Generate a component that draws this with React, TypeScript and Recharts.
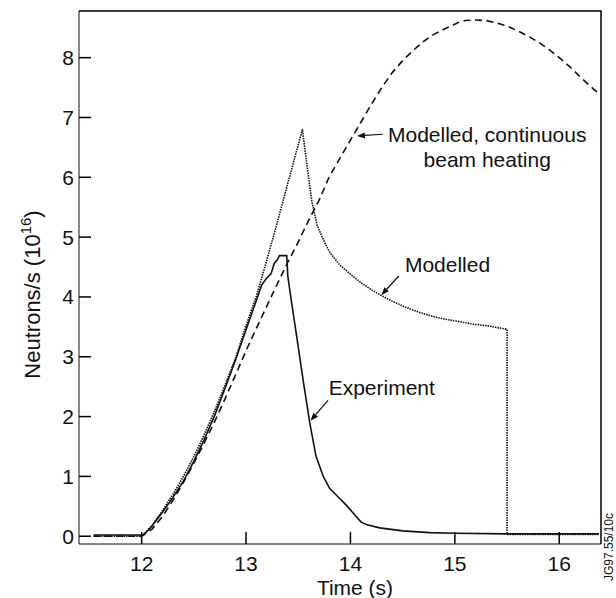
import React from 'react';
import { LineChart, Line, XAxis, YAxis, ReferenceLine, ReferenceDot } from 'recharts';

const FONT = '"Liberation Sans", Arial, Helvetica, sans-serif';
const INK = '#111';
const FS = 21;

const xTicks = [12, 13, 14, 15, 16];
const yTicks = [0, 1, 2, 3, 4, 5, 6, 7, 8];
const xDomain = [11.4, 16.4];
const yDomain = [-0.13, 8.78];

// Measured neutron rate (10^16 /s)
const expTime = [11.54, 12.02, 12.1, 12.2, 12.3, 12.4, 12.5, 12.6, 12.7, 12.8, 12.9, 13.0, 13.1, 13.15, 13.2, 13.24, 13.27, 13.3, 13.32, 13.39, 13.4, 13.42, 13.48, 13.55, 13.61, 13.67, 13.74, 13.8, 13.88, 13.96, 14.03, 14.1, 14.16, 14.28, 14.5, 14.76, 15.0, 15.5, 16.0, 16.38];
const expRate = [0.02, 0.02, 0.17, 0.4, 0.65, 0.92, 1.25, 1.62, 2.02, 2.48, 2.95, 3.45, 3.95, 4.2, 4.32, 4.39, 4.56, 4.62, 4.69, 4.69, 4.35, 4.1, 3.4, 2.57, 1.9, 1.34, 1.0, 0.8, 0.66, 0.52, 0.38, 0.24, 0.19, 0.14, 0.09, 0.06, 0.05, 0.04, 0.04, 0.04];

// Modelled rate, beams switched off at 15.5 s
const modTime = [11.54, 12.0, 12.1, 12.2, 12.3, 12.4, 12.5, 12.6, 12.7, 12.8, 12.9, 13.0, 13.1, 13.2, 13.3, 13.4, 13.54, 13.58, 13.63, 13.68, 13.75, 13.8, 13.9, 14.0, 14.1, 14.2, 14.3, 14.4, 14.5, 14.6, 14.7, 14.8, 14.9, 15.0, 15.1, 15.2, 15.3, 15.4, 15.5, 15.5, 16.38];
const modRate = [0.0, 0.0, 0.18, 0.43, 0.7, 1.0, 1.33, 1.7, 2.1, 2.53, 2.98, 3.52, 4.02, 4.62, 5.25, 5.9, 6.8, 6.25, 5.6, 5.2, 4.92, 4.75, 4.53, 4.38, 4.24, 4.12, 4.02, 3.93, 3.85, 3.78, 3.72, 3.67, 3.63, 3.6, 3.57, 3.54, 3.52, 3.49, 3.46, 0.03, 0.03];

// Modelled rate with continuous beam heating
const contTime = [11.54, 12.0, 12.1, 12.2, 12.3, 12.4, 12.5, 12.6, 12.7, 12.8, 12.9, 13.0, 13.1, 13.2, 13.3, 13.4, 13.5, 13.6, 13.7, 13.8, 13.9, 14.0, 14.1, 14.2, 14.3, 14.4, 14.5, 14.6, 14.7, 14.8, 14.9, 15.0, 15.05, 15.1, 15.2, 15.3, 15.4, 15.5, 15.6, 15.7, 15.8, 15.9, 16.0, 16.1, 16.2, 16.3, 16.38];
const contRate = [0.0, 0.0, 0.12, 0.33, 0.6, 0.9, 1.22, 1.56, 1.92, 2.3, 2.7, 3.1, 3.48, 3.85, 4.22, 4.58, 4.92, 5.28, 5.62, 6.02, 6.32, 6.62, 6.92, 7.22, 7.5, 7.75, 7.95, 8.12, 8.27, 8.39, 8.48, 8.56, 8.6, 8.62, 8.63, 8.62, 8.58, 8.53, 8.45, 8.36, 8.26, 8.14, 8.0, 7.85, 7.68, 7.52, 7.4];

const zip = (ts: number[], vs: number[]) => ts.map((t, i) => ({ t, v: vs[i] }));

const expData = zip(expTime, expRate);
const modData = zip(modTime, modRate);
const contData = zip(contTime, contRate);

// plot box in pixels (margins + axis sizes below)
const W = 616;
const H = 598;
const M = { top: 11, right: 15, left: 19, bottom: 0 };
const Y_AXIS_W = 60;
const X_AXIS_H = 54;
const box = { left: M.left + Y_AXIS_W, right: W - M.right, top: M.top, bottom: H - M.bottom - X_AXIS_H };
const sx = (t: number) => box.left + ((t - xDomain[0]) / (xDomain[1] - xDomain[0])) * (box.right - box.left);
const sy = (v: number) => box.bottom - ((v - yDomain[0]) / (yDomain[1] - yDomain[0])) * (box.bottom - box.top);

// arrow from label (first point) to curve (second point)
const Arrow = (props: any) => {
  const { x1, y1, x2, y2 } = props;
  const ang = Math.atan2(y2 - y1, x2 - x1);
  const len = 8;
  const half = 3;
  const bx = x2 - len * Math.cos(ang);
  const by = y2 - len * Math.sin(ang);
  const px = -Math.sin(ang) * half;
  const py = Math.cos(ang) * half;
  return (
    <g>
      <line x1={x1} y1={y1} x2={bx} y2={by} stroke={INK} strokeWidth={1.2} />
      <polygon points={`${x2},${y2} ${bx + px},${by + py} ${bx - px},${by - py}`} fill={INK} />
    </g>
  );
};

const note = (lines: string[]) => (p: any) => (
  <text x={p.cx} y={p.cy} textAnchor="middle" fontFamily={FONT} fontSize={FS} fill={INK}>
    {lines.map((s, i) => (
      <tspan key={i} x={p.cx} dy={i === 0 ? 0 : 25}>
        {s}
      </tspan>
    ))}
  </text>
);

const BottomTick = (props: any) => {
  const { x, y, payload } = props;
  return (
    <text x={x} y={y + 27} textAnchor="middle" fontFamily={FONT} fontSize={FS} fill={INK}>
      {payload.value}
    </text>
  );
};

const LeftTick = (props: any) => {
  const { x, y, payload } = props;
  return (
    <text x={x - 5} y={y + 7.5} textAnchor="end" fontFamily={FONT} fontSize={FS} fill={INK}>
      {payload.value}
    </text>
  );
};

const YTitle = (props: any) => {
  const { x, y, height } = props.viewBox;
  const cx = x + 13;
  const cy = y + height / 2 + 17;
  return (
    <text x={cx} y={cy} transform={`rotate(-90 ${cx} ${cy})`} textAnchor="middle" dominantBaseline="central" fontFamily={FONT} fontSize={22} fill={INK}>
      <tspan>Neutrons/s (10</tspan>
      <tspan dy={-7} fontSize={15}>16</tspan>
      <tspan dy={7}>)</tspan>
    </text>
  );
};

const XTitle = (props: any) => {
  const { y } = props.viewBox;
  return (
    <text x={355} y={y + 51} textAnchor="middle" fontFamily={FONT} fontSize={FS} fill={INK}>
      Time (s)
    </text>
  );
};

// top/right frame edges and inward tick marks, drawn over the chart
const Frame = () => (
  <svg width={W} height={H} style={{ position: 'absolute', left: 0, top: 0, zIndex: 2, pointerEvents: 'none' }}>
    <path
      d={`M${box.left},${box.top} H${box.right} V${box.bottom}`}
      fill="none"
      stroke="#000"
      strokeWidth={1.5}
    />
    {xTicks.map((t) => (
      <path key={`x${t}`} d={`M${sx(t)},${box.bottom} V${box.bottom - 12}`} stroke="#000" strokeWidth={1.5} />
    ))}
    {yTicks.map((v) => (
      <path key={`y${v}`} d={`M${box.left},${sy(v)} H${box.left + 12}`} stroke="#000" strokeWidth={1.5} />
    ))}
  </svg>
);

export default function App() {
  return (
    <div style={{ position: 'absolute', left: 0, top: 0, width: W, height: H, background: '#fff' }}>
      <LineChart width={W} height={H} margin={M}>
        <XAxis
          dataKey="t"
          type="number"
          domain={xDomain}
          ticks={xTicks}
          allowDataOverflow
          height={X_AXIS_H}
          tickSize={0}
          tickMargin={0}
          tickLine={false}
          tick={<BottomTick />}
          stroke={INK}
          label={<XTitle />}
        />
        <YAxis
          type="number"
          domain={yDomain}
          ticks={yTicks}
          allowDataOverflow
          width={Y_AXIS_W}
          tickSize={0}
          tickMargin={0}
          tickLine={false}
          tick={<LeftTick />}
          stroke={INK}
          label={<YTitle />}
        />

        <Line data={contData} dataKey="v" type="linear" stroke={INK} strokeWidth={1.6} strokeDasharray="7 4.5" dot={false} isAnimationActive={false} />
        <Line data={modData} dataKey="v" type="linear" stroke={INK} strokeWidth={1.6} strokeDasharray="1.5 1" dot={false} isAnimationActive={false} />
        <Line data={expData} dataKey="v" type="linear" stroke={INK} strokeWidth={1.6} dot={false} isAnimationActive={false} />

        <ReferenceLine segment={[{ x: 14.31, y: 6.72 }, { x: 14.062, y: 6.69 }]} shape={Arrow} ifOverflow="visible" />
        <ReferenceLine segment={[{ x: 14.463, y: 4.35 }, { x: 14.295, y: 4.03 }]} shape={Arrow} ifOverflow="visible" />
        <ReferenceLine segment={[{ x: 13.785, y: 2.27 }, { x: 13.617, y: 1.93 }]} shape={Arrow} ifOverflow="visible" />

        <ReferenceDot x={15.31} y={6.59} shape={note(['Modelled, continuous', 'beam heating'])} ifOverflow="visible" />
        <ReferenceDot x={14.93} y={4.41} shape={note(['Modelled'])} ifOverflow="visible" />
        <ReferenceDot x={14.3} y={2.36} shape={note(['Experiment'])} ifOverflow="visible" />
      </LineChart>
      <Frame />
      <div
        style={{
          position: 'absolute',
          left: 609,
          top: 547,
          transform: 'translate(-50%, -50%) rotate(-90deg)',
          fontFamily: FONT,
          fontSize: 12,
          color: INK,
          whiteSpace: 'nowrap',
        }}
      >
        JG97.55/10c
      </div>
    </div>
  );
}
